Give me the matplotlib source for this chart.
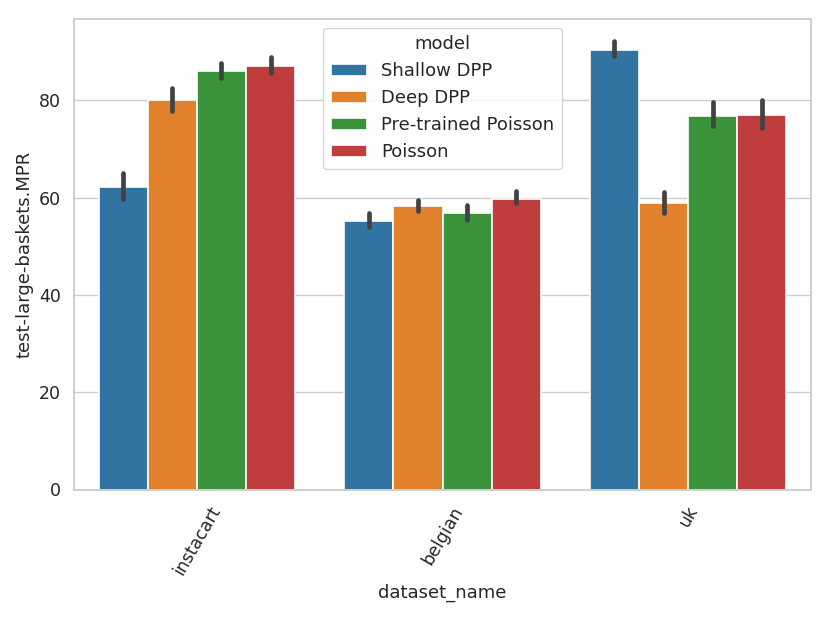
import matplotlib
matplotlib.use("Agg")
import matplotlib.pyplot as plt
import seaborn as sns
import numpy as np

datasets = ["instacart", "belgian", "uk"]
models = ["Shallow DPP", "Deep DPP", "Pre-trained Poisson", "Poisson"]
# mean values per model for each dataset
shallow_dpp = [62.2, 55.2, 90.4]
deep_dpp = [80.1, 58.2, 58.8]
pretrained_poisson = [86.0, 56.8, 76.8]
poisson = [87.1, 59.8, 77.0]
# confidence interval lows / highs
shallow_lo = [59.7, 54.0, 89.1]
shallow_hi = [65.0, 56.8, 92.2]
deep_lo = [77.8, 57.2, 56.8]
deep_hi = [82.5, 59.6, 61.2]
pre_lo = [84.6, 55.4, 74.7]
pre_hi = [87.7, 58.4, 79.6]
pois_lo = [85.7, 58.8, 74.4]
pois_hi = [88.9, 61.4, 80.1]

means = [shallow_dpp, deep_dpp, pretrained_poisson, poisson]
lows = [shallow_lo, deep_lo, pre_lo, pois_lo]
highs = [shallow_hi, deep_hi, pre_hi, pois_hi]

sns.set_theme(style="whitegrid")
plt.rcParams['font.family'] = ['DejaVu Sans']

colors = sns.color_palette("tab10", 4, desat=0.75)

fig = plt.figure(figsize=(8.31, 6.2), dpi=100)
ax = fig.add_axes([74/831, 1 - 489.5/620, (811 - 74)/831, (489.5 - 19)/620])

n = len(models)
width = 0.8 / n
x = np.arange(len(datasets))
for i, (m, mv, lo, hi) in enumerate(zip(models, means, lows, highs)):
    pos = x - 0.4 + width * (i + 0.5)
    ax.bar(pos, mv, width=width, color=colors[i], edgecolor="white", linewidth=1.2, label=m, zorder=2)
    for p, l, h in zip(pos, lo, hi):
        ax.plot([p, p], [l, h], color=".26", lw=3.4, solid_capstyle="round", zorder=3)

ax.set_xlim(-0.5, len(datasets) - 0.5)
ax.set_ylim(0, 96.7)
ax.set_xticks(x)
ax.set_xticklabels(datasets, rotation=60, fontsize=12.5)
ax.tick_params(axis="y", labelsize=12.5)
ax.set_xlabel("dataset_name", fontsize=13)
ax.set_ylabel("test-large-baskets.MPR", fontsize=13)
ax.grid(axis="x", visible=False)
ax.set_axisbelow(True)
for s in ax.spines.values():
    s.set_color("#cccccc")
    s.set_linewidth(1.3)

leg = ax.legend(title="model", loc="upper center", fontsize=13, title_fontsize=13,
                bbox_to_anchor=(0.5, 1.0))

fig.savefig("out.png", dpi=100)
